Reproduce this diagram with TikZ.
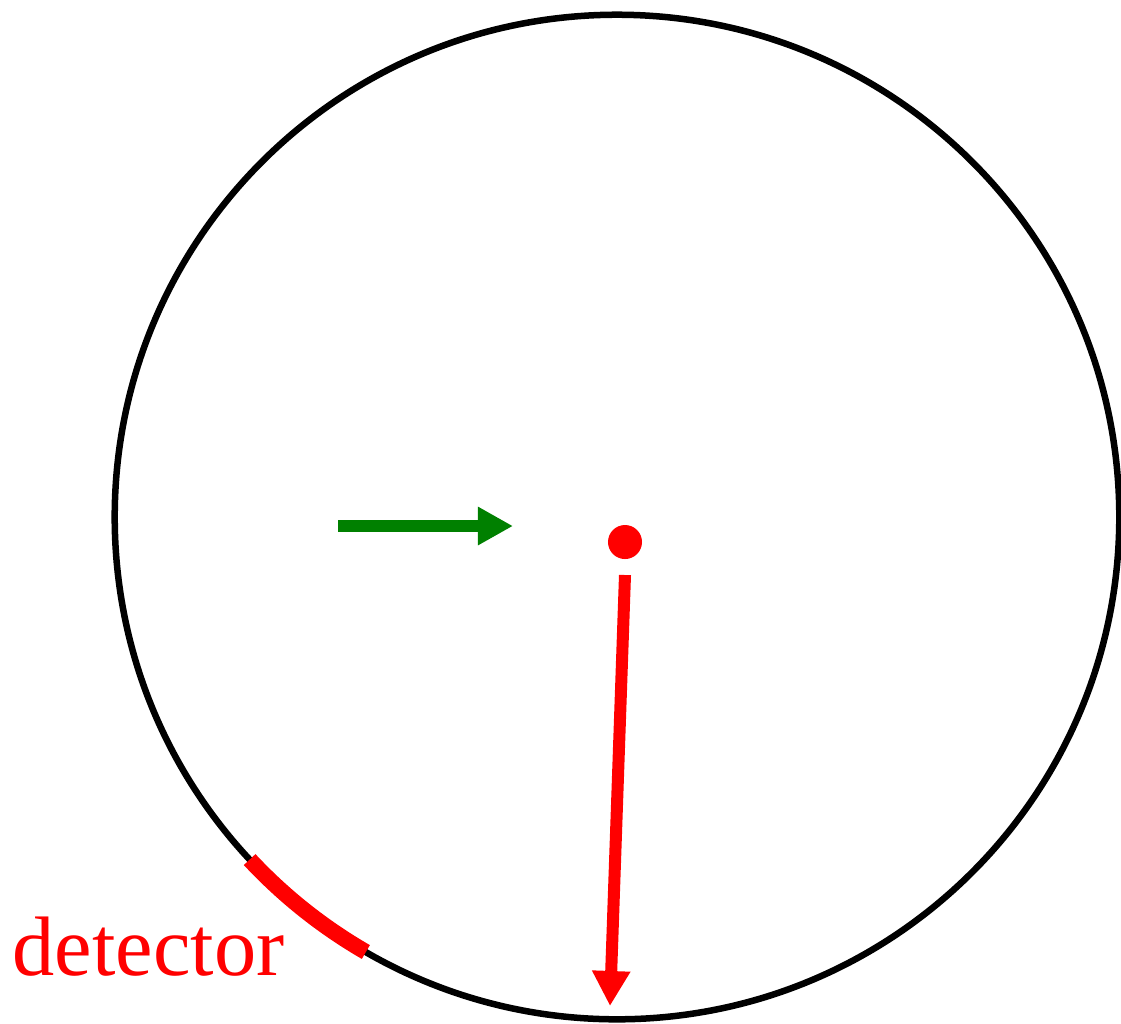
\documentclass[tikz,border=0pt]{standalone}
\usepackage{fontspec}
\setmainfont{Liberation Serif}
\usetikzlibrary{arrows.meta}
\definecolor{arrowgreen}{RGB}{0,128,0}

\begin{document}
\begin{tikzpicture}[
    x=0.01cm, y=-0.01cm,
    fat/.style={line width=0.12cm, -{Triangle[length=0.35cm, width=0.36cm]}}
]
\useasboundingbox (0,0) rectangle (1121,1023);
\coordinate (c) at (617,517);
\draw[line width=0.065cm] (c) circle[radius=5.02cm];
\draw[red, line width=0.16cm] ([shift={(223:5.02cm)}]c) arc[start angle=223, end angle=240, radius=5.02cm];

\node[circle, fill=red, inner sep=0pt, minimum size=0.34cm] (dot) at (625,542) {};
\node[red, anchor=base west, inner sep=0pt, font=\fontsize{24}{28}\selectfont] (det) at (12,975) {detector};

\coordinate (gs) at (338,526);
\coordinate (ge) at (513,526);
\coordinate (rs) at (625,575);
\coordinate (re) at (610,1006);

\draw[fat, arrowgreen] (gs) -- (ge);
\draw[fat, red] (rs) -- (re);
\end{tikzpicture}
\end{document}
